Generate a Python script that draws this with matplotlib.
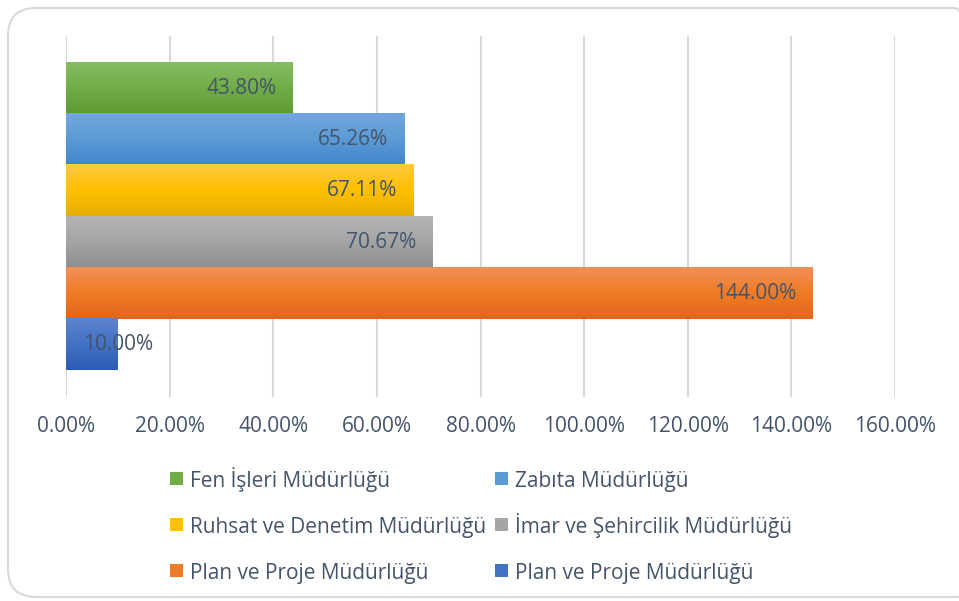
import matplotlib
matplotlib.use("Agg")
import matplotlib.pyplot as plt
import numpy as np
from matplotlib.patches import FancyBboxPatch, Rectangle
from matplotlib.colors import LinearSegmentedColormap
from matplotlib.transforms import IdentityTransform
from matplotlib.ticker import FuncFormatter

plt.rcParams['font.family'] = ['Open Sans', 'DejaVu Sans']

series = ["Fen İşleri Müdürlüğü", "Zabıta Müdürlüğü", "Ruhsat ve Denetim Müdürlüğü",
          "İmar ve Şehircilik Müdürlüğü", "Plan ve Proje Müdürlüğü", "Plan ve Proje Müdürlüğü"]
values = [43.80, 65.26, 67.11, 70.67, 144.00, 10.00]
xticks = [0, 20, 40, 60, 80, 100, 120, 140, 160]
# (top, middle, bottom) gradient colours
grads = [("#86BC63", "#70AD47", "#5E9C33"),
         ("#72A6DD", "#5B9BD5", "#4583CA"),
         ("#FFC93F", "#FFC000", "#E6AE00"),
         ("#B3B3B3", "#A5A5A5", "#8E8E8E"),
         ("#F19058", "#F07B25", "#E2661A"),
         ("#5C83CF", "#4472C4", "#2D5AB3")]
text_color = "#44546A"

W, H = 959, 601
fig = plt.figure(figsize=(W / 100, H / 100), dpi=100)
fig.patch.set_facecolor("white")

# rounded chart border
border = FancyBboxPatch((8, 4), 975, 589, boxstyle="round,pad=0,rounding_size=28",
                        transform=IdentityTransform(), facecolor="none",
                        edgecolor="#D9D9D9", linewidth=1.5, zorder=0)
fig.patches.append(border)

ax = fig.add_axes([66 / W, (H - 397) / H, (895 - 66) / W, (397 - 36) / H])
ypos = np.arange(len(values))
bars = ax.barh(ypos, values, height=1.0, color=[g[1] for g in grads], zorder=2)

# gradient overlay on bars
for b, g in zip(bars, grads):
    cmap = LinearSegmentedColormap.from_list("g", list(g))
    grad = np.linspace(0, 1, 64).reshape(-1, 1)
    x0, y0, w, h = b.get_x(), b.get_y(), b.get_width(), b.get_height()
    ax.imshow(grad, cmap=cmap, aspect="auto", extent=(x0, x0 + w, y0 + h, y0),
              zorder=2.5, interpolation="bilinear")
ax.set_ylim(len(values) - 0.5 + 0.52, -0.5 - 0.52)
ax.set_xlim(0, 160)

# data labels
for y, v in zip(ypos, values):
    if v < 20:
        ax.text(v, y, f"{v:.2f}%", ha="center", va="center", fontsize=15,
                color=text_color, zorder=4)
    else:
        ax.annotate(f"{v:.2f}%", (v, y), xytext=(-16, 0), textcoords="offset pixels",
                    ha="right", va="center", fontsize=15, color=text_color, zorder=4)

ax.set_xticks(xticks)
ax.xaxis.set_major_formatter(FuncFormatter(lambda x, p: f"{x:.2f}%"))
ax.set_yticks([])
ax.tick_params(axis="x", length=0, pad=14, labelsize=15, labelcolor=text_color)
ax.grid(axis="x", color="#D9D9D9", linewidth=1.5, zorder=0)
ax.set_axisbelow(True)
for s in ax.spines.values():
    s.set_visible(False)

# legend (2 columns, row-major), drawn in pixel coordinates
col_marker_x = [170, 495]
col_text_x = [190, 515]
row_center_y = [478.5, 524.5, 570.5]
msize = 13
for i, (name, g) in enumerate(zip(series, grads)):
    r, c = divmod(i, 2)
    yc = row_center_y[r]
    fig.patches.append(Rectangle((col_marker_x[c], H - yc - msize / 2), msize, msize,
                                 transform=IdentityTransform(), facecolor=g[1],
                                 edgecolor="none"))
    fig.text(col_text_x[c] / W, (H - (yc + 8.5)) / H, name, ha="left", va="baseline",
             fontsize=15, color=text_color)

fig.savefig("out.png", dpi=100)
